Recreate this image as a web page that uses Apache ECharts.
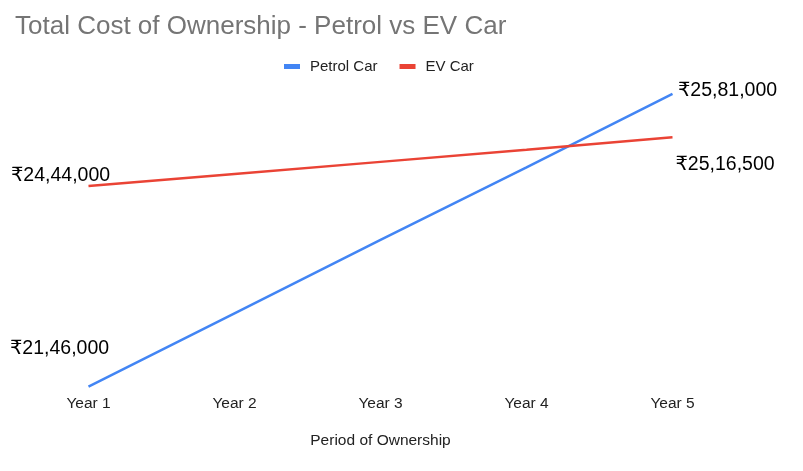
<!DOCTYPE html>
<html>
<head>
<meta charset="utf-8">
<script src="https://cdn.jsdelivr.net/npm/echarts@6/dist/echarts.min.js"></script>
<style>html,body{margin:0;padding:0;background:#fff;}#c{width:803px;height:471px;}</style>
</head>
<body>
<div id="c"></div>
<script>
const categories = ['Year 1', 'Year 2', 'Year 3', 'Year 4', 'Year 5'];
const petrolCar = [2146000, 2255000, 2364000, 2472000, 2581000];
const evCar = [2444000, 2462000, 2480000, 2498000, 2516500];

function inr(v) {
  const s = String(Math.round(v));
  const last3 = s.slice(-3);
  let rest = s.slice(0, -3);
  const parts = [];
  while (rest.length > 2) { parts.unshift(rest.slice(-2)); rest = rest.slice(0, -2); }
  if (rest.length) parts.unshift(rest);
  return '₹' + (parts.length ? parts.join(',') + ',' : '') + last3;
}

const FONT = 'Arial, "Liberation Sans", "DejaVu Sans", sans-serif';
const labelFont = { fontSize: 19.5, color: '#000', fontFamily: FONT };

function buildData(values, labelOpts) {
  return values.map((v, i) => {
    const lo = labelOpts[i];
    if (!lo) return { value: v, label: { show: false } };
    return {
      value: v,
      label: Object.assign({ show: true, position: 'inside', align: 'center', verticalAlign: 'middle', formatter: p => inr(p.value) }, labelFont, lo)
    };
  });
}

const petrolLabels = {
  0: { offset: [-29, -37.5] },
  4: { offset: [55, -3] }
};
const evLabels = {
  0: { offset: [-28, -10] },
  4: { offset: [52.5, 27] }
};

const chart = echarts.init(document.getElementById('c'));
chart.setOption({
  animation: false,
  backgroundColor: '#fff',
  title: {
    text: 'Total Cost of Ownership - Petrol vs EV Car',
    left: 10, top: 9,
    textStyle: { fontSize: 26, fontWeight: 'normal', color: '#757575', fontFamily: FONT }
  },
  legend: {
    left: 279, top: 54,
    icon: 'rect', itemWidth: 16, itemHeight: 5, itemGap: 22,
    textStyle: { fontSize: 15, color: '#222', fontFamily: FONT, padding: [0, 0, 0, 5] },
    data: ['Petrol Car', 'EV Car']
  },
  grid: { left: 88.5, right: 130.5, top: 47.5, bottom: 84.4, containLabel: false },
  xAxis: {
    type: 'category', data: categories, boundaryGap: false,
    axisLine: { show: false }, axisTick: { show: false }, splitLine: { show: false },
    axisLabel: { fontSize: 15.5, color: '#222', margin: 9, fontFamily: FONT },
    name: 'Period of Ownership', nameLocation: 'middle', nameGap: 46,
    nameTextStyle: { fontSize: 15.5, color: '#222', fontFamily: FONT }
  },
  yAxis: {
    type: 'value', min: 2146000, max: 2650000, show: false, splitLine: { show: false }
  },
  series: [
    {
      name: 'Petrol Car', type: 'line', data: buildData(petrolCar, petrolLabels),
      symbol: 'circle', symbolSize: 0.1, clip: false,
      lineStyle: { color: '#4285F4', width: 2.5 }, itemStyle: { color: '#4285F4' }
    },
    {
      name: 'EV Car', type: 'line', data: buildData(evCar, evLabels),
      symbol: 'circle', symbolSize: 0.1, clip: false,
      lineStyle: { color: '#EA4335', width: 2.5 }, itemStyle: { color: '#EA4335' }
    }
  ]
});
</script>
</body>
</html>
